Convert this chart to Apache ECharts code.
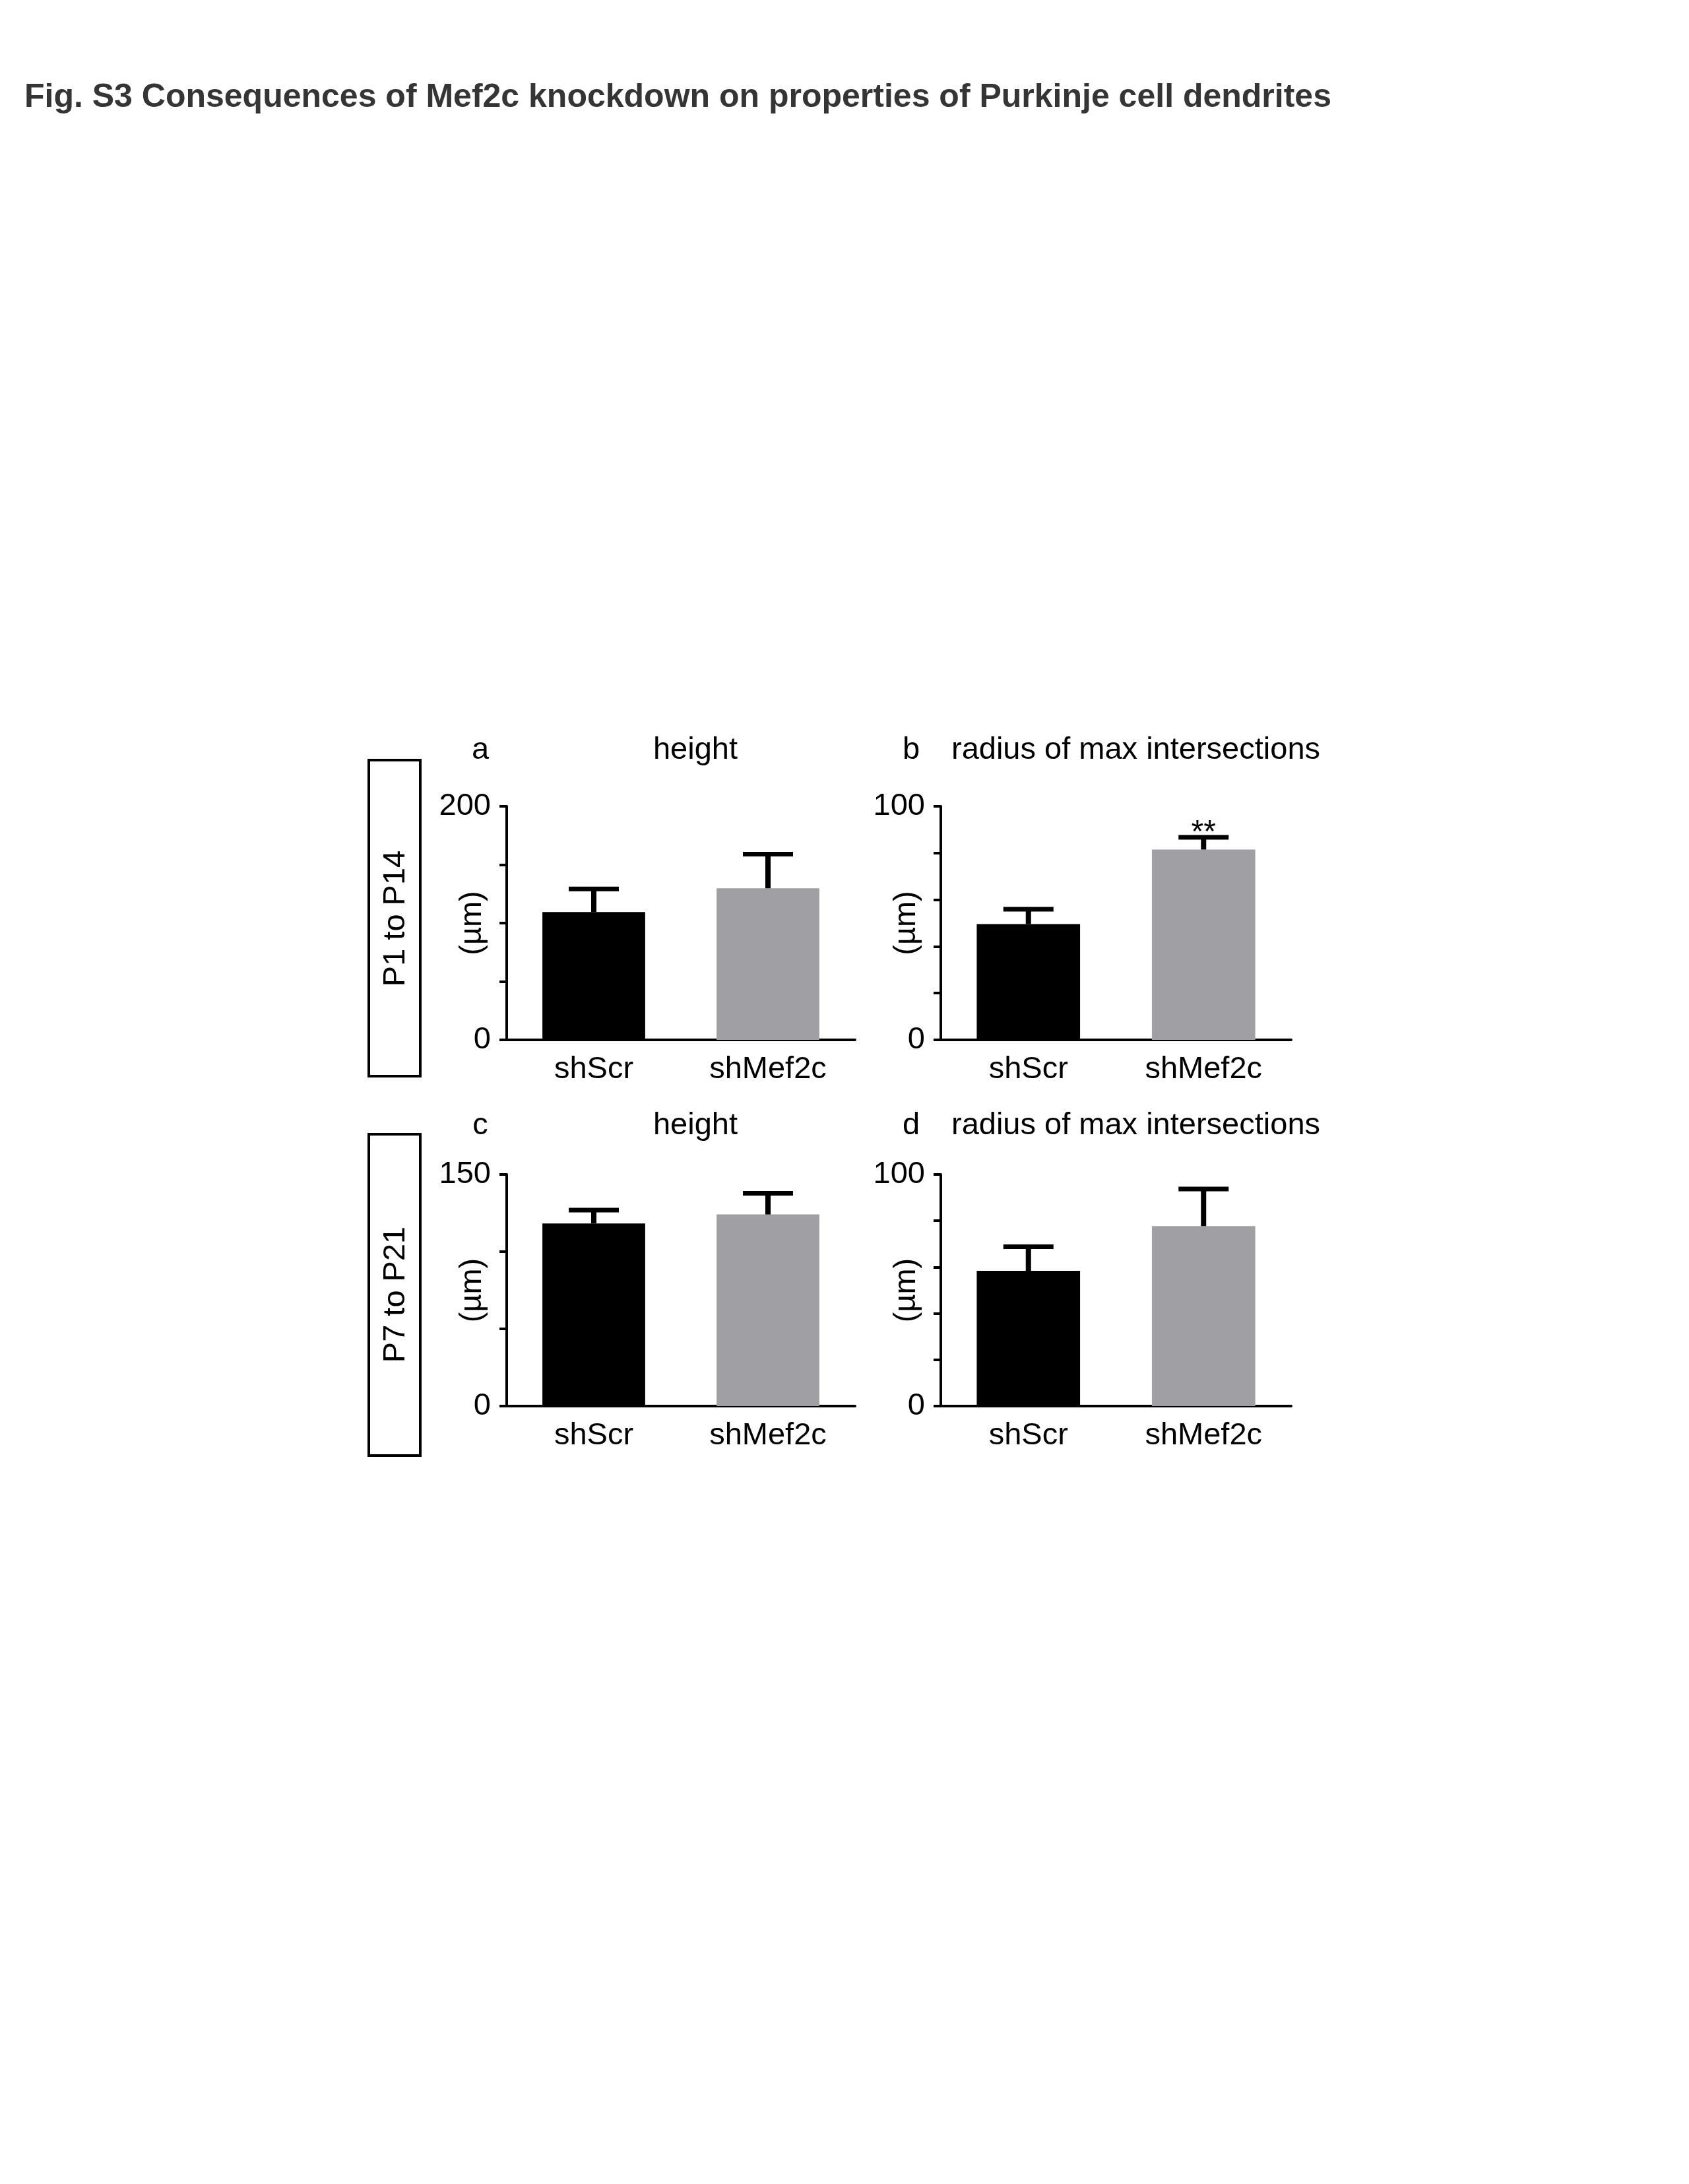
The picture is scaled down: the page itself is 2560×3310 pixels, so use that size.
<!DOCTYPE html>
<html>
<head>
<meta charset="utf-8">
<script src="https://cdn.jsdelivr.net/npm/echarts@6/dist/echarts.min.js"></script>
<style>
  html, body { margin: 0; padding: 0; background: #fff; }
  #chart { width: 2560px; height: 3310px; }
</style>
</head>
<body>
<div id="chart"></div>
<script>
// data
const groups = ['shScr', 'shMef2c'];
const barColors = ['#000000', '#a09fa4'];

const heightP1Mean = [109.4, 129.8];
const heightP1Sem = [19.9, 29.3];
const radiusP1Mean = [49.6, 81.5];
const radiusP1Sem = [6.3, 5.2];
const radiusP1Sig = ['', '**'];

const heightP7Mean = [118.3, 124.1];
const heightP7Sem = [8.6, 13.7];
const radiusP7Mean = [58.4, 77.7];
const radiusP7Sem = [10.4, 16.0];

const yMax = [200, 100, 150, 100];
const yStep = [50, 20, 50, 20];

const FONT = "'Liberation Sans', Arial, sans-serif";
const FS = 47;

// panel layout (a, b, c, d)
const grids = [
  { left: 768, top: 1222, width: 528, height: 354 },
  { left: 1426, top: 1222, width: 531, height: 354 },
  { left: 768, top: 1780, width: 528, height: 351 },
  { left: 1426, top: 1780, width: 531, height: 351 }
];

const panels = [
  { mean: heightP1Mean, sem: heightP1Sem, sig: null },
  { mean: radiusP1Mean, sem: radiusP1Sem, sig: radiusP1Sig },
  { mean: heightP7Mean, sem: heightP7Sem, sig: null },
  { mean: radiusP7Mean, sem: radiusP7Sem, sig: null }
];

const chart = echarts.init(document.getElementById('chart'), null, { renderer: 'canvas' });

const xAxis = grids.map((g, i) => ({
  type: 'category',
  gridIndex: i,
  data: groups,
  axisLine: { lineStyle: { color: '#000', width: 4 } },
  axisTick: { alignWithLabel: true, length: 10, lineStyle: { color: '#000', width: 4 } },
  axisLabel: { color: '#000', fontSize: FS, fontFamily: FONT, margin: 22 }
}));

const yAxis = grids.map((g, i) => ({
  type: 'value',
  gridIndex: i,
  min: 0,
  max: yMax[i],
  interval: yStep[i],
  name: '(µm)',
  nameLocation: 'middle',
  nameGap: 28,
  nameMoveOverlap: false,
  nameTextStyle: { color: '#000', fontSize: FS, fontFamily: FONT },
  splitLine: { show: false },
  axisLine: { show: true, lineStyle: { color: '#000', width: 4 } },
  axisTick: { show: true, length: 11, lineStyle: { color: '#000', width: 4 } },
  axisLabel: {
    color: '#000', fontSize: FS, fontFamily: FONT, margin: 24,
    formatter: v => (v === 0 || v === yMax[i]) ? String(v) : ''
  }
}));

const series = [];
panels.forEach((p, i) => {
  series.push({
    type: 'bar',
    xAxisIndex: i,
    yAxisIndex: i,
    barWidth: '59%',
    data: p.mean.map((m, k) => ({ value: m, itemStyle: { color: barColors[k] } })),
    z: 2
  });
  series.push({
    type: 'custom',
    xAxisIndex: i,
    yAxisIndex: i,
    z: 3,
    data: p.mean.map((m, k) => [k, m, p.sem[k]]),
    renderItem: (params, api) => {
      const k = api.value(0);
      const m = api.value(1);
      const s = api.value(2);
      const base = api.coord([k, m]);
      const top = api.coord([k, m + s]);
      const half = 38;
      const children = [
        { type: 'line', shape: { x1: base[0], y1: base[1], x2: top[0], y2: top[1] },
          style: { stroke: '#000', lineWidth: 8 } },
        { type: 'line', shape: { x1: top[0] - half, y1: top[1], x2: top[0] + half, y2: top[1] },
          style: { stroke: '#000', lineWidth: 7 } }
      ];
      if (p.sig && p.sig[params.dataIndex]) {
        children.push({
          type: 'text', x: top[0], y: top[1] - 6,
          style: { text: p.sig[params.dataIndex], fill: '#000', font: '48px ' + FONT,
                   align: 'center', verticalAlign: 'middle' }
        });
      }
      return { type: 'group', children };
    }
  });
});

function txt(text, x, y, size, opts) {
  opts = opts || {};
  return {
    type: 'text', x: x, y: y, rotation: opts.rotation || 0,
    style: {
      text: text, fill: opts.color || '#000',
      font: (opts.bold ? 'bold ' : '') + size + 'px ' + FONT,
      align: opts.align || 'center', verticalAlign: 'middle'
    }
  };
}

const graphic = [
  txt('Fig. S3 Consequences of Mef2c knockdown on properties of Purkinje cell dendrites', 37, 148, 50,
      { bold: true, align: 'left', color: '#353535' }),
  txt('a', 728, 1137, FS),
  txt('height', 1054, 1137, FS),
  txt('b', 1381, 1137, FS),
  txt('radius of max intersections', 1442, 1137, FS, { align: 'left' }),
  txt('c', 728, 1706, FS),
  txt('height', 1054, 1706, FS),
  txt('d', 1381, 1706, FS),
  txt('radius of max intersections', 1442, 1706, FS, { align: 'left' }),
  { type: 'rect', shape: { x: 559, y: 1152, width: 78, height: 479 },
    style: { fill: 'none', stroke: '#000', lineWidth: 4 } },
  { type: 'rect', shape: { x: 559, y: 1719, width: 78, height: 487 },
    style: { fill: 'none', stroke: '#000', lineWidth: 4 } },
  txt('P1 to P14', 600, 1392, FS, { rotation: Math.PI / 2 }),
  txt('P7 to P21', 600, 1962, FS, { rotation: Math.PI / 2 })
];

chart.setOption({
  backgroundColor: '#ffffff',
  animation: false,
  grid: grids,
  xAxis: xAxis,
  yAxis: yAxis,
  series: series,
  graphic: graphic
});
</script>
</body>
</html>
